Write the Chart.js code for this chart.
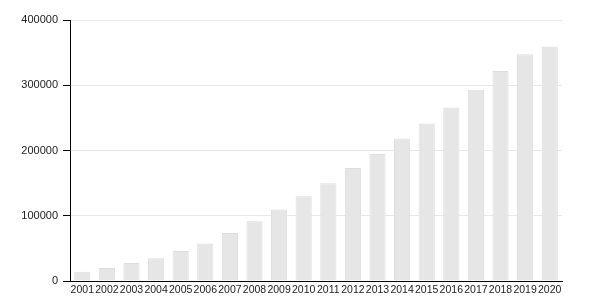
<!DOCTYPE html>
<html>
<head>
<meta charset="utf-8">
<script src="https://cdn.jsdelivr.net/npm/chart.js@4"></script>
<style>
  html, body { margin: 0; padding: 0; background: #fff; }
  #wrap { width: 600px; height: 300px; }
</style>
</head>
<body>
<div id="wrap"><canvas id="yearChart"></canvas></div>
<script>
const years = ["2001", "2002", "2003", "2004", "2005", "2006", "2007", "2008", "2009", "2010",
  "2011", "2012", "2013", "2014", "2015", "2016", "2017", "2018", "2019", "2020"];
const totals = [14000, 20000, 27500, 35000, 46000, 57500, 73500, 91500, 109500, 130000,
  150000, 173000, 194500, 218500, 241500, 266000, 293000, 322000, 347500, 359500];
const yTicks = [0, 100000, 200000, 300000, 400000];

Chart.defaults.font.family = "'Liberation Sans', Arial, sans-serif";
Chart.defaults.font.size = 11;
Chart.defaults.color = "#222";

const ctx = document.getElementById("yearChart").getContext("2d");
new Chart(ctx, {
  type: "bar",
  data: {
    labels: years,
    datasets: [
      {
        data: totals,
        backgroundColor: "#e6e6e6",
        borderColor: "#dedede",
        borderWidth: 1,
        barPercentage: 0.82,
        categoryPercentage: 0.8,
      },
    ],
  },
  options: {
    responsive: true,
    maintainAspectRatio: false,
    animation: false,
    layout: { padding: { top: 20, right: 38, left: 0, bottom: 0 } },
    plugins: {
      legend: { display: false },
      tooltip: { enabled: false },
    },
    scales: {
      x: {
        grid: { display: false, drawTicks: false },
        border: { color: "#000", width: 1 },
        ticks: { padding: 3, maxRotation: 0, autoSkip: false, font: { size: 10.5 } },
        afterFit: (axis) => {
          axis.height = 19;
        },
      },
      y: {
        min: 0,
        max: 400000,
        afterBuildTicks: (axis) => {
          axis.ticks = yTicks.map((v) => ({ value: v }));
        },
        afterFit: (axis) => {
          axis.width = 70;
        },
        grid: { color: "#e8e8e8", tickColor: "#000", tickLength: 7 },
        border: { color: "#000", width: 1 },
        ticks: { padding: 5, callback: (v) => String(v) },
      },
    },
  },
});
</script>
</body>
</html>
